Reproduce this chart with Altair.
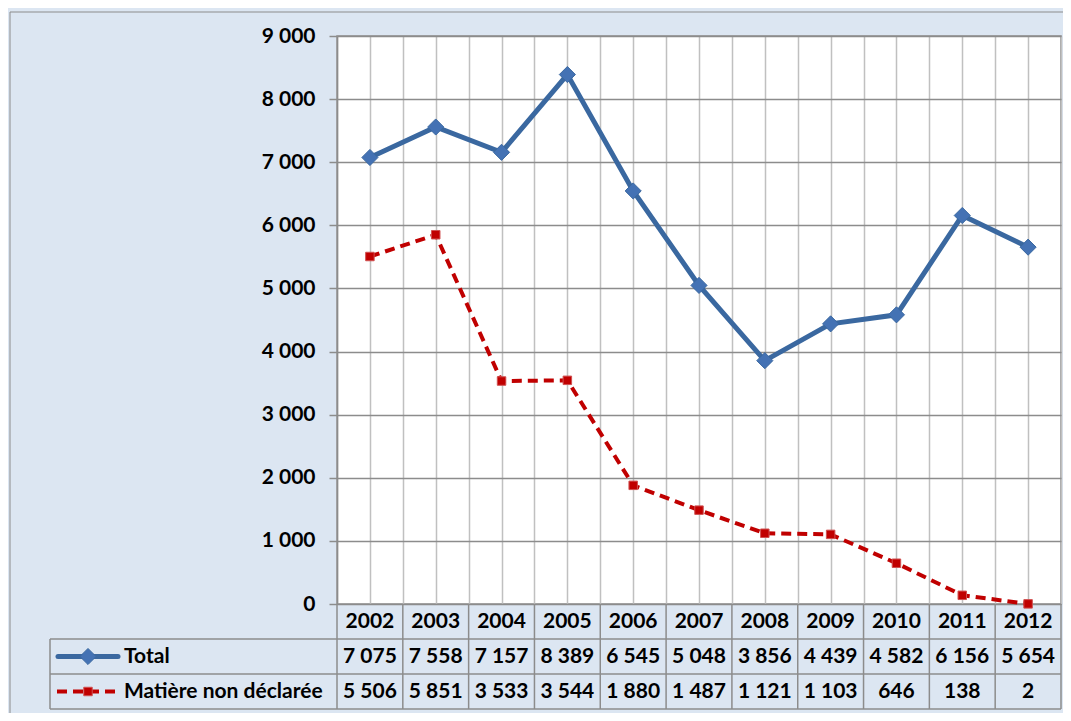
import altair as alt
import pandas as pd

# ---- data ----
years = [2002, 2003, 2004, 2005, 2006, 2007, 2008, 2009, 2010, 2011, 2012]
total = [7075, 7558, 7157, 8389, 6545, 5048, 3856, 4439, 4582, 6156, 5654]
non_declaree = [5506, 5851, 3533, 3544, 1880, 1487, 1121, 1103, 646, 138, 2]
series_names = ["Total", "Matière non déclarée"]
y_ticks = [0, 1000, 2000, 3000, 4000, 5000, 6000, 7000, 8000, 9000]

df = pd.DataFrame({"year": years, "total": total, "nd": non_declaree})
one = pd.DataFrame({"k": [0]})

# ---- layout / style ----
W, H = 724, 568
ROW = 35
LEFT = -287          # left edge of table legend column, relative to plot
BG = "#DCE6F2"
GRID_H = "#8C8C8C"
GRID_V = "#C0C0C0"
LINE = "#8C8C8C"
BLUE = "#3A68A0"
BLUE_M = "#4472B4"
RED = "#C00000"
FONT = "Lato"
FS = 21

grid_vals = sorted([y - 0.5 for y in years] + years + [years[-1] + 0.5])
xscale = alt.Scale(domain=[years[0] - 0.5, years[-1] + 0.5], nice=False, zero=False)
xaxis = alt.Axis(values=grid_vals, labels=False, ticks=False, domain=False,
                 grid=True, gridColor=GRID_V, gridWidth=1.5, title=None)
yscale = alt.Scale(domain=[0, 9000], nice=False)
yaxis = alt.Axis(values=y_ticks, title=None, grid=True, gridColor=GRID_H, gridWidth=1.3,
                 domain=True, domainColor=LINE, domainWidth=1.5,
                 ticks=True, tickSize=8, tickColor=LINE, tickWidth=1.5,
                 labelFont=FONT, labelFontSize=FS, labelFontWeight="bold",
                 labelColor="black", labelPadding=14,
                 labelExpr="replace(format(datum.value, ','), ',', ' ')")


def X(field):
    return alt.X(field, scale=xscale, axis=xaxis)


def Y(field):
    return alt.Y(field, scale=yscale, axis=yaxis)


base = alt.Chart(df)

# table column boundaries (driven by the years)
col_rules = base.transform_calculate(b="datum.year - 0.5").mark_rule(
    color=LINE, strokeWidth=1.5).encode(
    x=X("b:Q"), y=alt.value(H), y2=alt.value(H + 3 * ROW))
col_rule_end = base.transform_filter(f"datum.year == {years[-1]}").transform_calculate(
    b="datum.year + 0.5").mark_rule(color=LINE, strokeWidth=1.5).encode(
    x=X("b:Q"), y=alt.value(H), y2=alt.value(H + 3 * ROW))

# table horizontal lines and left border
hlines = []
for r in (1, 2, 3):
    hlines.append(alt.Chart(one).mark_rule(color=LINE, strokeWidth=1.5).encode(
        x=alt.value(LEFT), x2=alt.value(W), y=alt.value(H + r * ROW)))
vleft = alt.Chart(one).mark_rule(color=LINE, strokeWidth=1.5).encode(
    x=alt.value(LEFT), y=alt.value(H + ROW), y2=alt.value(H + 3 * ROW))

# outer frame (top and left)
frame_top = alt.Chart(one).mark_rule(color=LINE, strokeWidth=1).encode(
    x=alt.value(-327), x2=alt.value(W + 2), y=alt.value(-24))
frame_left = alt.Chart(one).mark_rule(color=LINE, strokeWidth=1).encode(
    x=alt.value(-327), y=alt.value(-24), y2=alt.value(H + 3 * ROW + 4))

# series
total_line = base.mark_line(color=BLUE, strokeWidth=5).encode(x=X("year:Q"), y=Y("total:Q"))
total_pts = base.mark_point(shape="diamond", filled=True, size=260, color=BLUE_M,
                            opacity=1, stroke=BLUE, strokeWidth=1).encode(
    x=X("year:Q"), y=Y("total:Q"))
nd_line = base.mark_line(color=RED, strokeWidth=4, strokeDash=[10, 6]).encode(
    x=X("year:Q"), y=Y("nd:Q"))
nd_pts = base.mark_square(size=72, color=RED, opacity=1, stroke="#D05050",
                          strokeWidth=1).encode(x=X("year:Q"), y=Y("nd:Q"))

# table texts
txt = dict(font=FONT, fontSize=FS, fontWeight="bold", color="black", baseline="middle")
year_txt = base.mark_text(**txt).encode(
    x=X("year:Q"), y=alt.value(H + ROW / 2), text=alt.Text("year:Q", format="d"))
total_txt = base.transform_calculate(
    lbl="replace(format(datum.total, ','), ',', ' ')").mark_text(**txt).encode(
    x=X("year:Q"), y=alt.value(H + 1.5 * ROW), text="lbl:N")
nd_txt = base.transform_calculate(
    lbl="replace(format(datum.nd, ','), ',', ' ')").mark_text(**txt).encode(
    x=X("year:Q"), y=alt.value(H + 2.5 * ROW), text="lbl:N")

# legend keys inside the table
leg = pd.DataFrame({"series": series_names})
leg_total = alt.Chart(leg).transform_filter(f"datum.series == '{series_names[0]}'")
leg_nd = alt.Chart(leg).transform_filter(f"datum.series != '{series_names[0]}'")
yt, yn = H + 1.5 * ROW, H + 2.5 * ROW
lk1 = leg_total.mark_rule(color=BLUE, strokeWidth=5, strokeCap="round").encode(
    x=alt.value(-279), x2=alt.value(-219), y=alt.value(yt))
lk1p = leg_total.mark_point(shape="diamond", filled=True, size=260, color=BLUE_M,
                            opacity=1, stroke=BLUE, strokeWidth=1).encode(
    x=alt.value(-249), y=alt.value(yt))
lk1t = leg_total.mark_text(align="left", **txt).encode(
    x=alt.value(-213), y=alt.value(yt), text="series:N")
lk2 = leg_nd.mark_rule(color=RED, strokeWidth=4, strokeDash=[10, 6]).encode(
    x=alt.value(-280), x2=alt.value(-222), y=alt.value(yn))
lk2p = leg_nd.mark_square(size=72, color=RED, opacity=1, stroke="#D05050",
                          strokeWidth=1).encode(x=alt.value(-249), y=alt.value(yn))
lk2t = leg_nd.mark_text(align="left", **txt).encode(
    x=alt.value(-213), y=alt.value(yn), text="series:N")

chart = alt.layer(
    col_rules, col_rule_end, *hlines, vleft, frame_top, frame_left,
    nd_line, nd_pts, total_line, total_pts,
    year_txt, total_txt, nd_txt,
    lk1, lk1p, lk1t, lk2, lk2p, lk2t,
).properties(
    width=W, height=H,
    padding={"left": 329, "top": 28, "right": 2, "bottom": 3 * ROW + 4},
    autosize=alt.AutoSizeParams(type="none"),
    background=BG,
).configure_view(fill="white", stroke=LINE, strokeWidth=1.5)

chart.save("out.html", embed_options={"renderer": "svg", "actions": False})
